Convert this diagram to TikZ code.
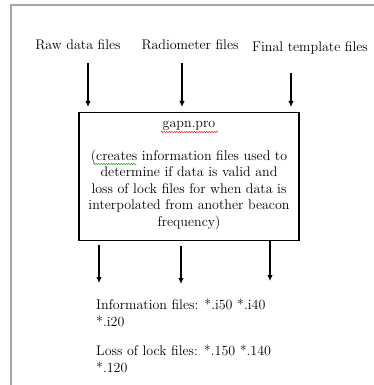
\documentclass[tikz,border=0pt]{standalone}
\usetikzlibrary{arrows.meta,decorations.pathmorphing}
\begin{document}
\begin{tikzpicture}[x=1pt,y=-1pt,
  lbl/.style={inner sep=0pt,font=\fontsize{14}{16.5}\selectfont},
  arr/.style={line width=1.1pt,-{Latex[length=6pt,width=5.5pt]}},
  frame/.style={draw=black!35,line width=1.6pt},
  procbox/.style={draw,line width=1.1pt,minimum width=220pt,minimum height=128pt,inner sep=0pt},
  squig/.style={decorate,decoration={snake,amplitude=0.6pt,segment length=2.5pt},line width=0.5pt}]
\useasboundingbox (0,0) rectangle (374,385);
\fill[white] (0,0) rectangle (374,385);
% frame
\draw[frame] (11,385) -- (11,5) -- (374,5);
% input labels
\node[lbl] (raw) at (78,45) {Raw data files};
\node[lbl] (radio) at (190,45) {Radiometer files};
\node[lbl] (final) at (310,48) {Final template files};
% box
\node[procbox] (box) at (189,176.5) {};
\node[lbl] (title) at (189,126) {gapn.pro};
\node[lbl,align=center] (desc) at (189,190) {(creates information files used to\\determine if data is valid and\\loss of lock files for when data is\\interpolated from another beacon\\frequency)};
% spell-check marks
\coordinate (t1) at (161,132); \coordinate (t2) at (218,132);
\draw[squig,red] (t1) -- (t2);
\coordinate (c1) at (93,164); \coordinate (c2) at (136,164);
\draw[squig,green!60!black] (c1) -- (c2);
% input arrows
\coordinate (i1s) at (88,63);  \coordinate (i1e) at (88,107);
\coordinate (i2s) at (182,63); \coordinate (i2e) at (182,107);
\coordinate (i3s) at (291,73); \coordinate (i3e) at (291,107);
\draw[arr] (i1s) -- (i1e);
\draw[arr] (i2s) -- (i2e);
\draw[arr] (i3s) -- (i3e);
% output arrows
\coordinate (o1s) at (99,245);  \coordinate (o1e) at (99,283);
\coordinate (o2s) at (181,246); \coordinate (o2e) at (181,284);
\coordinate (o3e) at (270,281);
\draw[arr] (o1s) -- (o1e);
\draw[arr] (o2s) -- (o2e);
\draw[arr] (box.south -| o3e) -- (o3e);
% outputs
\node[lbl,anchor=north west,align=left] (info) at (96,299) {Information files: *.i50 *.i40\\*.i20};
\node[lbl,anchor=north west,align=left] (loss) at (96,345) {Loss of lock files: *.150 *.140\\*.120};
\end{tikzpicture}
\end{document}
